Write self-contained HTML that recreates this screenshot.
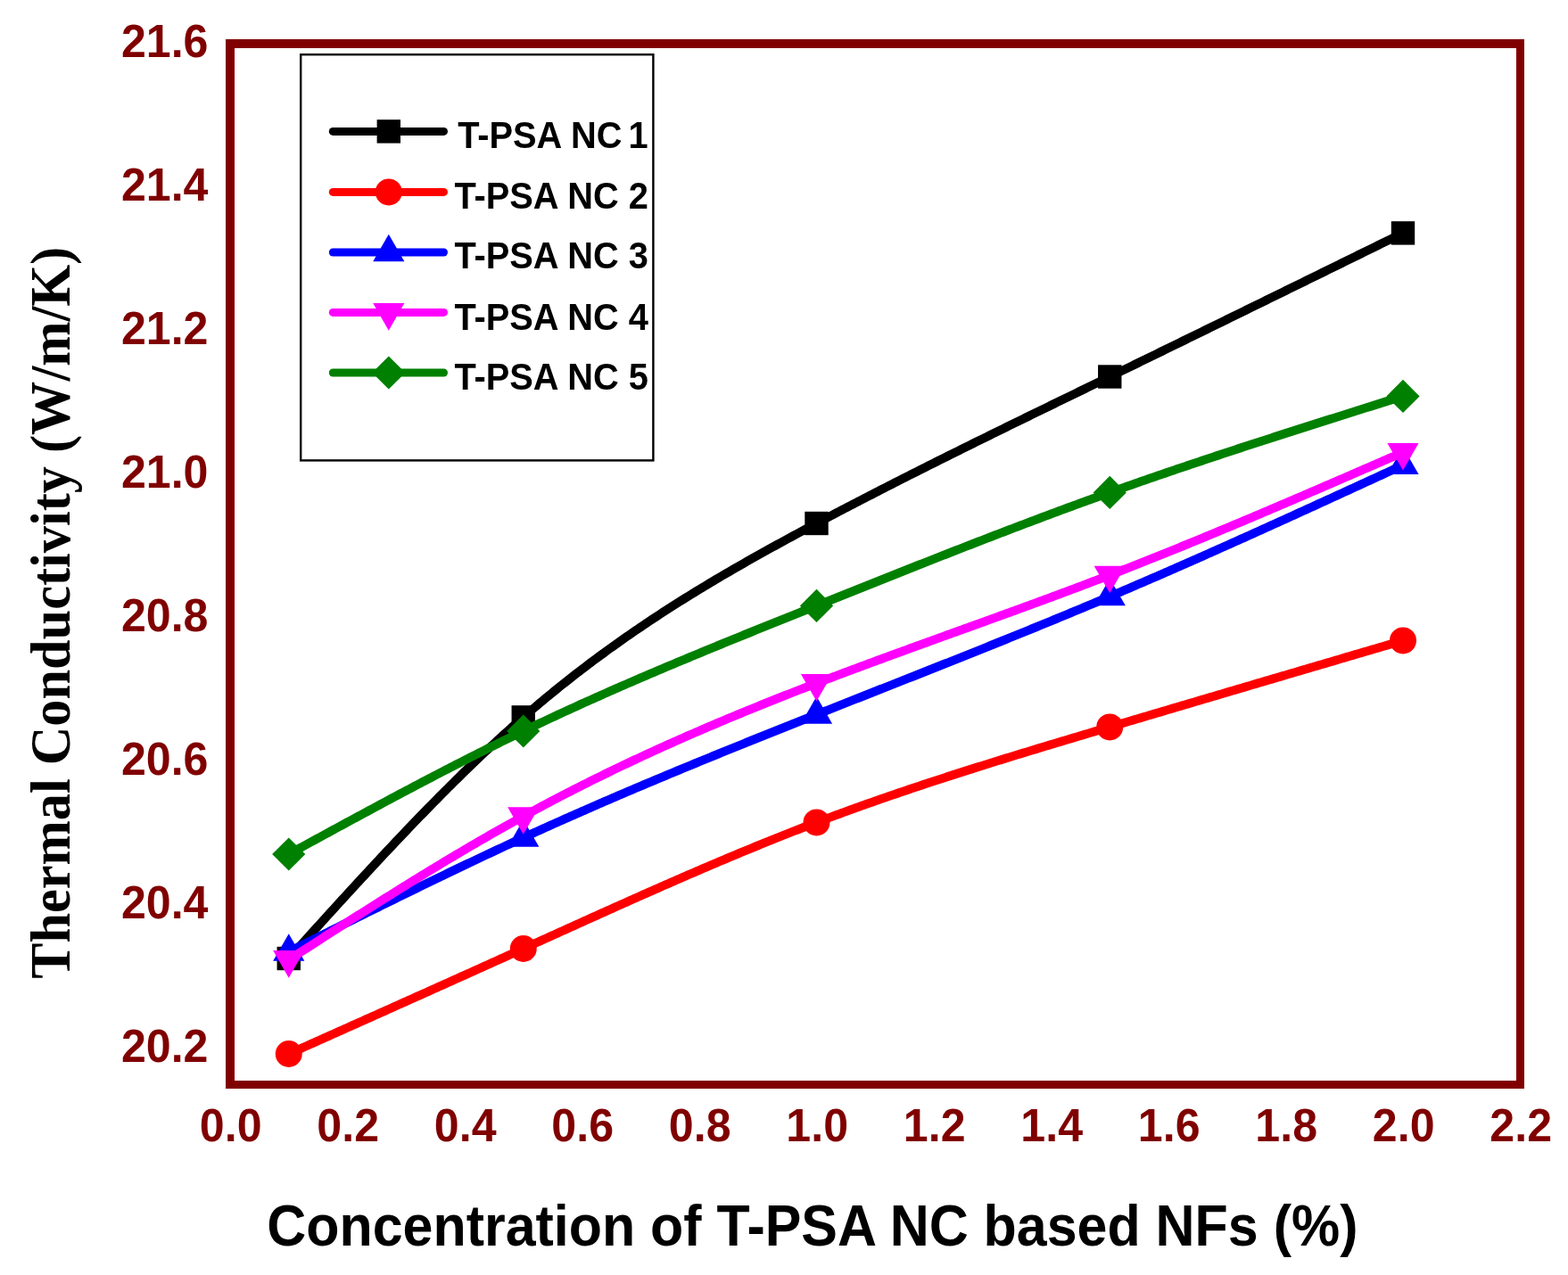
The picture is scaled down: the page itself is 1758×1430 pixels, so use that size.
<!DOCTYPE html>
<html><head><meta charset="utf-8"><title>Thermal Conductivity chart</title>
<style>
html,body{margin:0;padding:0;background:#fff;width:1758px;height:1430px;overflow:hidden}
svg{display:block}
.tick{font-family:"Liberation Sans",Arial,sans-serif;font-weight:bold;font-size:51.6px;fill:#800000}
.leg{font-family:"Liberation Sans",Arial,sans-serif;font-weight:bold;font-size:42.2px;fill:#000}
.xt{font-family:"Liberation Sans",Arial,sans-serif;font-weight:bold;font-size:63.95px;fill:#000}
.yt{font-family:"Liberation Serif","Times New Roman",serif;font-weight:bold;font-size:63.05px;fill:#000}
</style></head>
<body>
<svg width="1758" height="1430" viewBox="0 0 1758 1430">
<rect x="0" y="0" width="1758" height="1430" fill="#ffffff"/>
<rect x="337.2" y="61.2" width="395.2" height="455.2" fill="none" stroke="#000" stroke-width="2.4"/>
<polyline points="323.75,1075.00 326.88,1071.53 330.01,1068.07 333.14,1064.60 336.27,1061.14 339.40,1057.67 342.54,1054.21 345.67,1050.75 348.80,1047.29 351.93,1043.83 355.06,1040.38 358.19,1036.92 361.32,1033.47 364.45,1030.02 367.58,1026.57 370.71,1023.13 373.85,1019.69 376.98,1016.25 380.11,1012.82 383.24,1009.38 386.37,1005.96 389.50,1002.54 392.63,999.12 395.76,995.71 398.89,992.30 402.02,988.89 405.15,985.49 408.29,982.10 411.42,978.71 414.55,975.33 417.68,971.96 420.81,968.59 423.94,965.23 427.07,961.87 430.20,958.52 433.33,955.18 436.46,951.84 439.60,948.52 442.73,945.20 445.86,941.88 448.99,938.58 452.12,935.29 455.25,932.00 458.38,928.72 461.51,925.45 464.64,922.19 467.77,918.94 470.90,915.70 474.04,912.47 477.17,909.25 480.30,906.03 483.43,902.83 486.56,899.64 489.69,896.46 492.82,893.30 495.95,890.14 499.08,886.99 502.21,883.86 505.35,880.74 508.48,877.63 511.61,874.53 514.74,871.44 517.87,868.37 521.00,865.31 524.13,862.26 527.26,859.23 530.39,856.21 533.52,853.20 536.65,850.21 539.79,847.23 542.92,844.27 546.05,841.32 549.18,838.39 552.31,835.47 555.44,832.56 558.57,829.67 561.70,826.80 564.83,823.94 567.96,821.10 571.10,818.28 574.23,815.47 577.36,812.67 580.49,809.90 583.62,807.14 586.75,804.40 589.88,801.68 593.01,798.97 596.14,796.28 599.27,793.61 602.40,790.95 605.54,788.31 608.67,785.69 611.80,783.09 614.93,780.50 618.06,777.93 621.19,775.37 624.32,772.83 627.45,770.30 630.58,767.79 633.71,765.30 636.85,762.82 639.98,760.36 643.11,757.91 646.24,755.48 649.37,753.06 652.50,750.66 655.63,748.27 658.76,745.89 661.89,743.53 665.02,741.19 668.15,738.85 671.29,736.54 674.42,734.23 677.55,731.94 680.68,729.66 683.81,727.40 686.94,725.15 690.07,722.91 693.20,720.68 696.33,718.47 699.46,716.27 702.60,714.08 705.73,711.91 708.86,709.75 711.99,707.59 715.12,705.46 718.25,703.33 721.38,701.21 724.51,699.11 727.64,697.02 730.77,694.94 733.90,692.86 737.04,690.81 740.17,688.76 743.30,686.72 746.43,684.69 749.56,682.67 752.69,680.67 755.82,678.67 758.95,676.68 762.08,674.71 765.21,672.74 768.35,670.78 771.48,668.83 774.61,666.90 777.74,664.97 780.87,663.05 784.00,661.13 787.13,659.23 790.26,657.34 793.39,655.45 796.52,653.57 799.65,651.70 802.79,649.84 805.92,647.99 809.05,646.14 812.18,644.30 815.31,642.47 818.44,640.65 821.57,638.83 824.70,637.02 827.83,635.22 830.96,633.42 834.10,631.64 837.23,629.85 840.36,628.08 843.49,626.31 846.62,624.54 849.75,622.79 852.88,621.03 856.01,619.29 859.14,617.55 862.27,615.81 865.40,614.08 868.54,612.36 871.67,610.64 874.80,608.92 877.93,607.21 881.06,605.50 884.19,603.80 887.32,602.11 890.45,600.41 893.58,598.72 896.71,597.04 899.85,595.36 902.98,593.68 906.11,592.00 909.24,590.33 912.37,588.66 915.50,587.00 918.63,585.34 921.76,583.68 924.89,582.02 928.02,580.37 931.15,578.72 934.29,577.07 937.42,575.42 940.55,573.78 943.68,572.14 946.81,570.51 949.94,568.87 953.07,567.24 956.20,565.61 959.33,563.98 962.46,562.36 965.60,560.73 968.73,559.11 971.86,557.50 974.99,555.88 978.12,554.27 981.25,552.66 984.38,551.05 987.51,549.45 990.64,547.84 993.77,546.24 996.90,544.64 1000.04,543.04 1003.17,541.45 1006.30,539.86 1009.43,538.26 1012.56,536.67 1015.69,535.09 1018.82,533.50 1021.95,531.92 1025.08,530.34 1028.21,528.76 1031.35,527.18 1034.48,525.60 1037.61,524.03 1040.74,522.46 1043.87,520.89 1047.00,519.32 1050.13,517.75 1053.26,516.18 1056.39,514.62 1059.52,513.06 1062.65,511.50 1065.79,509.94 1068.92,508.38 1072.05,506.82 1075.18,505.27 1078.31,503.71 1081.44,502.16 1084.57,500.61 1087.70,499.06 1090.83,497.51 1093.96,495.96 1097.10,494.41 1100.23,492.87 1103.36,491.32 1106.49,489.78 1109.62,488.24 1112.75,486.70 1115.88,485.16 1119.01,483.62 1122.14,482.08 1125.27,480.54 1128.40,479.00 1131.54,477.47 1134.67,475.93 1137.80,474.40 1140.93,472.87 1144.06,471.33 1147.19,469.80 1150.32,468.27 1153.45,466.74 1156.58,465.21 1159.71,463.68 1162.85,462.15 1165.98,460.62 1169.11,459.10 1172.24,457.57 1175.37,456.04 1178.50,454.52 1181.63,452.99 1184.76,451.46 1187.89,449.94 1191.02,448.41 1194.15,446.89 1197.29,445.36 1200.42,443.84 1203.55,442.32 1206.68,440.79 1209.81,439.27 1212.94,437.74 1216.07,436.22 1219.20,434.70 1222.33,433.17 1225.46,431.65 1228.60,430.12 1231.73,428.60 1234.86,427.07 1237.99,425.55 1241.12,424.03 1244.25,422.50 1247.38,420.97 1250.51,419.45 1253.64,417.92 1256.77,416.40 1259.90,414.87 1263.04,413.34 1266.17,411.82 1269.30,410.29 1272.43,408.76 1275.56,407.24 1278.69,405.71 1281.82,404.18 1284.95,402.65 1288.08,401.12 1291.21,399.60 1294.35,398.07 1297.48,396.54 1300.61,395.01 1303.74,393.48 1306.87,391.95 1310.00,390.42 1313.13,388.89 1316.26,387.36 1319.39,385.83 1322.52,384.30 1325.65,382.77 1328.79,381.23 1331.92,379.70 1335.05,378.17 1338.18,376.64 1341.31,375.11 1344.44,373.58 1347.57,372.04 1350.70,370.51 1353.83,368.98 1356.96,367.45 1360.10,365.91 1363.23,364.38 1366.36,362.85 1369.49,361.31 1372.62,359.78 1375.75,358.24 1378.88,356.71 1382.01,355.18 1385.14,353.64 1388.27,352.11 1391.40,350.57 1394.54,349.04 1397.67,347.50 1400.80,345.97 1403.93,344.43 1407.06,342.90 1410.19,341.36 1413.32,339.83 1416.45,338.29 1419.58,336.76 1422.71,335.22 1425.85,333.68 1428.98,332.15 1432.11,330.61 1435.24,329.07 1438.37,327.54 1441.50,326.00 1444.63,324.46 1447.76,322.93 1450.89,321.39 1454.02,319.85 1457.15,318.32 1460.29,316.78 1463.42,315.24 1466.55,313.71 1469.68,312.17 1472.81,310.63 1475.94,309.09 1479.07,307.55 1482.20,306.02 1485.33,304.48 1488.46,302.94 1491.60,301.40 1494.73,299.87 1497.86,298.33 1500.99,296.79 1504.12,295.25 1507.25,293.71 1510.38,292.17 1513.51,290.64 1516.64,289.10 1519.77,287.56 1522.90,286.02 1526.04,284.48 1529.17,282.94 1532.30,281.40 1535.43,279.87 1538.56,278.33 1541.69,276.79 1544.82,275.25 1547.95,273.71 1551.08,272.17 1554.21,270.63 1557.35,269.09 1560.48,267.56 1563.61,266.02 1566.74,264.48 1569.87,262.94 1573.00,261.40" fill="none" stroke="#000000" stroke-width="9.8" stroke-linejoin="round" stroke-linecap="round"/>
<rect x="310.55" y="1061.80" width="26.40" height="26.40" fill="#000000"/>
<rect x="573.55" y="791.20" width="26.40" height="26.40" fill="#000000"/>
<rect x="902.30" y="573.80" width="26.40" height="26.40" fill="#000000"/>
<rect x="1231.05" y="409.30" width="26.40" height="26.40" fill="#000000"/>
<rect x="1559.80" y="248.20" width="26.40" height="26.40" fill="#000000"/>
<polyline points="323.75,1182.00 326.88,1180.60 330.01,1179.20 333.14,1177.80 336.27,1176.41 339.40,1175.01 342.54,1173.61 345.67,1172.21 348.80,1170.81 351.93,1169.41 355.06,1168.01 358.19,1166.61 361.32,1165.21 364.45,1163.82 367.58,1162.42 370.71,1161.02 373.85,1159.62 376.98,1158.22 380.11,1156.82 383.24,1155.42 386.37,1154.02 389.50,1152.62 392.63,1151.22 395.76,1149.82 398.89,1148.42 402.02,1147.02 405.15,1145.62 408.29,1144.22 411.42,1142.82 414.55,1141.42 417.68,1140.02 420.81,1138.62 423.94,1137.21 427.07,1135.81 430.20,1134.41 433.33,1133.01 436.46,1131.61 439.60,1130.21 442.73,1128.80 445.86,1127.40 448.99,1126.00 452.12,1124.59 455.25,1123.19 458.38,1121.79 461.51,1120.38 464.64,1118.98 467.77,1117.58 470.90,1116.17 474.04,1114.77 477.17,1113.36 480.30,1111.96 483.43,1110.55 486.56,1109.15 489.69,1107.74 492.82,1106.34 495.95,1104.93 499.08,1103.52 502.21,1102.12 505.35,1100.71 508.48,1099.30 511.61,1097.89 514.74,1096.48 517.87,1095.08 521.00,1093.67 524.13,1092.26 527.26,1090.85 530.39,1089.44 533.52,1088.03 536.65,1086.62 539.79,1085.21 542.92,1083.80 546.05,1082.39 549.18,1080.97 552.31,1079.56 555.44,1078.15 558.57,1076.74 561.70,1075.32 564.83,1073.91 567.96,1072.49 571.10,1071.08 574.23,1069.66 577.36,1068.25 580.49,1066.83 583.62,1065.42 586.75,1064.00 589.88,1062.58 593.01,1061.17 596.14,1059.75 599.27,1058.33 602.40,1056.91 605.54,1055.49 608.67,1054.07 611.80,1052.65 614.93,1051.24 618.06,1049.82 621.19,1048.40 624.32,1046.98 627.45,1045.56 630.58,1044.14 633.71,1042.73 636.85,1041.31 639.98,1039.89 643.11,1038.47 646.24,1037.06 649.37,1035.64 652.50,1034.23 655.63,1032.81 658.76,1031.40 661.89,1029.98 665.02,1028.57 668.15,1027.16 671.29,1025.75 674.42,1024.34 677.55,1022.93 680.68,1021.52 683.81,1020.11 686.94,1018.71 690.07,1017.30 693.20,1015.90 696.33,1014.50 699.46,1013.10 702.60,1011.70 705.73,1010.30 708.86,1008.90 711.99,1007.50 715.12,1006.11 718.25,1004.72 721.38,1003.33 724.51,1001.94 727.64,1000.55 730.77,999.17 733.90,997.78 737.04,996.40 740.17,995.02 743.30,993.64 746.43,992.27 749.56,990.90 752.69,989.52 755.82,988.15 758.95,986.79 762.08,985.42 765.21,984.06 768.35,982.70 771.48,981.34 774.61,979.99 777.74,978.64 780.87,977.29 784.00,975.94 787.13,974.59 790.26,973.25 793.39,971.91 796.52,970.58 799.65,969.24 802.79,967.91 805.92,966.59 809.05,965.26 812.18,963.94 815.31,962.62 818.44,961.31 821.57,960.00 824.70,958.69 827.83,957.38 830.96,956.08 834.10,954.78 837.23,953.49 840.36,952.20 843.49,950.91 846.62,949.63 849.75,948.35 852.88,947.07 856.01,945.80 859.14,944.53 862.27,943.26 865.40,942.00 868.54,940.75 871.67,939.49 874.80,938.24 877.93,937.00 881.06,935.76 884.19,934.52 887.32,933.29 890.45,932.06 893.58,930.84 896.71,929.62 899.85,928.40 902.98,927.19 906.11,925.99 909.24,924.79 912.37,923.59 915.50,922.40 918.63,921.21 921.76,920.03 924.89,918.85 928.02,917.68 931.15,916.51 934.29,915.35 937.42,914.19 940.55,913.04 943.68,911.89 946.81,910.74 949.94,909.60 953.07,908.46 956.20,907.33 959.33,906.20 962.46,905.08 965.60,903.96 968.73,902.84 971.86,901.73 974.99,900.62 978.12,899.51 981.25,898.41 984.38,897.32 987.51,896.23 990.64,895.14 993.77,894.05 996.90,892.97 1000.04,891.89 1003.17,890.82 1006.30,889.75 1009.43,888.68 1012.56,887.62 1015.69,886.55 1018.82,885.50 1021.95,884.44 1025.08,883.39 1028.21,882.35 1031.35,881.30 1034.48,880.26 1037.61,879.22 1040.74,878.19 1043.87,877.16 1047.00,876.13 1050.13,875.10 1053.26,874.08 1056.39,873.06 1059.52,872.04 1062.65,871.03 1065.79,870.02 1068.92,869.01 1072.05,868.00 1075.18,867.00 1078.31,865.99 1081.44,865.00 1084.57,864.00 1087.70,863.01 1090.83,862.01 1093.96,861.02 1097.10,860.04 1100.23,859.05 1103.36,858.07 1106.49,857.09 1109.62,856.11 1112.75,855.13 1115.88,854.16 1119.01,853.19 1122.14,852.22 1125.27,851.25 1128.40,850.28 1131.54,849.32 1134.67,848.35 1137.80,847.39 1140.93,846.43 1144.06,845.47 1147.19,844.52 1150.32,843.56 1153.45,842.61 1156.58,841.66 1159.71,840.71 1162.85,839.76 1165.98,838.81 1169.11,837.86 1172.24,836.92 1175.37,835.97 1178.50,835.03 1181.63,834.08 1184.76,833.14 1187.89,832.20 1191.02,831.26 1194.15,830.33 1197.29,829.39 1200.42,828.45 1203.55,827.52 1206.68,826.58 1209.81,825.65 1212.94,824.71 1216.07,823.78 1219.20,822.85 1222.33,821.91 1225.46,820.98 1228.60,820.05 1231.73,819.12 1234.86,818.19 1237.99,817.26 1241.12,816.33 1244.25,815.40 1247.38,814.47 1250.51,813.54 1253.64,812.61 1256.77,811.68 1259.90,810.75 1263.04,809.83 1266.17,808.90 1269.30,807.97 1272.43,807.04 1275.56,806.11 1278.69,805.18 1281.82,804.26 1284.95,803.33 1288.08,802.40 1291.21,801.47 1294.35,800.55 1297.48,799.62 1300.61,798.69 1303.74,797.76 1306.87,796.84 1310.00,795.91 1313.13,794.99 1316.26,794.06 1319.39,793.13 1322.52,792.21 1325.65,791.28 1328.79,790.36 1331.92,789.43 1335.05,788.50 1338.18,787.58 1341.31,786.65 1344.44,785.73 1347.57,784.80 1350.70,783.88 1353.83,782.95 1356.96,782.03 1360.10,781.10 1363.23,780.18 1366.36,779.25 1369.49,778.33 1372.62,777.41 1375.75,776.48 1378.88,775.56 1382.01,774.63 1385.14,773.71 1388.27,772.79 1391.40,771.86 1394.54,770.94 1397.67,770.02 1400.80,769.09 1403.93,768.17 1407.06,767.25 1410.19,766.32 1413.32,765.40 1416.45,764.48 1419.58,763.55 1422.71,762.63 1425.85,761.71 1428.98,760.79 1432.11,759.86 1435.24,758.94 1438.37,758.02 1441.50,757.10 1444.63,756.17 1447.76,755.25 1450.89,754.33 1454.02,753.41 1457.15,752.49 1460.29,751.56 1463.42,750.64 1466.55,749.72 1469.68,748.80 1472.81,747.88 1475.94,746.96 1479.07,746.03 1482.20,745.11 1485.33,744.19 1488.46,743.27 1491.60,742.35 1494.73,741.43 1497.86,740.50 1500.99,739.58 1504.12,738.66 1507.25,737.74 1510.38,736.82 1513.51,735.90 1516.64,734.98 1519.77,734.06 1522.90,733.14 1526.04,732.21 1529.17,731.29 1532.30,730.37 1535.43,729.45 1538.56,728.53 1541.69,727.61 1544.82,726.69 1547.95,725.77 1551.08,724.85 1554.21,723.93 1557.35,723.00 1560.48,722.08 1563.61,721.16 1566.74,720.24 1569.87,719.32 1573.00,718.40" fill="none" stroke="#ff0000" stroke-width="9.8" stroke-linejoin="round" stroke-linecap="round"/>
<circle cx="323.75" cy="1182.00" r="15.0" fill="#ff0000"/>
<circle cx="586.75" cy="1064.00" r="15.0" fill="#ff0000"/>
<circle cx="915.50" cy="922.40" r="15.0" fill="#ff0000"/>
<circle cx="1244.25" cy="815.40" r="15.0" fill="#ff0000"/>
<circle cx="1573.00" cy="718.40" r="15.0" fill="#ff0000"/>
<polyline points="323.75,1067.50 326.88,1065.93 330.01,1064.36 333.14,1062.80 336.27,1061.23 339.40,1059.66 342.54,1058.09 345.67,1056.53 348.80,1054.96 351.93,1053.39 355.06,1051.83 358.19,1050.26 361.32,1048.69 364.45,1047.13 367.58,1045.56 370.71,1044.00 373.85,1042.44 376.98,1040.87 380.11,1039.31 383.24,1037.75 386.37,1036.19 389.50,1034.63 392.63,1033.07 395.76,1031.51 398.89,1029.95 402.02,1028.40 405.15,1026.84 408.29,1025.28 411.42,1023.73 414.55,1022.18 417.68,1020.63 420.81,1019.08 423.94,1017.53 427.07,1015.98 430.20,1014.43 433.33,1012.88 436.46,1011.34 439.60,1009.80 442.73,1008.26 445.86,1006.72 448.99,1005.18 452.12,1003.64 455.25,1002.10 458.38,1000.57 461.51,999.04 464.64,997.51 467.77,995.98 470.90,994.45 474.04,992.92 477.17,991.40 480.30,989.88 483.43,988.36 486.56,986.84 489.69,985.32 492.82,983.81 495.95,982.30 499.08,980.79 502.21,979.28 505.35,977.77 508.48,976.27 511.61,974.77 514.74,973.27 517.87,971.77 521.00,970.28 524.13,968.79 527.26,967.30 530.39,965.81 533.52,964.32 536.65,962.84 539.79,961.36 542.92,959.89 546.05,958.41 549.18,956.94 552.31,955.47 555.44,954.00 558.57,952.54 561.70,951.08 564.83,949.62 567.96,948.17 571.10,946.71 574.23,945.27 577.36,943.82 580.49,942.38 583.62,940.94 586.75,939.50 589.88,938.07 593.01,936.64 596.14,935.21 599.27,933.78 602.40,932.36 605.54,930.94 608.67,929.53 611.80,928.12 614.93,926.71 618.06,925.30 621.19,923.90 624.32,922.50 627.45,921.10 630.58,919.71 633.71,918.31 636.85,916.93 639.98,915.54 643.11,914.15 646.24,912.77 649.37,911.40 652.50,910.02 655.63,908.65 658.76,907.28 661.89,905.91 665.02,904.54 668.15,903.18 671.29,901.82 674.42,900.46 677.55,899.11 680.68,897.76 683.81,896.41 686.94,895.06 690.07,893.71 693.20,892.37 696.33,891.03 699.46,889.69 702.60,888.35 705.73,887.02 708.86,885.69 711.99,884.36 715.12,883.03 718.25,881.70 721.38,880.38 724.51,879.06 727.64,877.74 730.77,876.42 733.90,875.11 737.04,873.79 740.17,872.48 743.30,871.17 746.43,869.87 749.56,868.56 752.69,867.26 755.82,865.95 758.95,864.65 762.08,863.36 765.21,862.06 768.35,860.77 771.48,859.47 774.61,858.18 777.74,856.89 780.87,855.60 784.00,854.32 787.13,853.03 790.26,851.75 793.39,850.47 796.52,849.19 799.65,847.91 802.79,846.63 805.92,845.35 809.05,844.08 812.18,842.81 815.31,841.53 818.44,840.26 821.57,838.99 824.70,837.73 827.83,836.46 830.96,835.19 834.10,833.93 837.23,832.67 840.36,831.41 843.49,830.14 846.62,828.88 849.75,827.63 852.88,826.37 856.01,825.11 859.14,823.86 862.27,822.60 865.40,821.35 868.54,820.10 871.67,818.84 874.80,817.59 877.93,816.34 881.06,815.09 884.19,813.85 887.32,812.60 890.45,811.35 893.58,810.10 896.71,808.86 899.85,807.61 902.98,806.37 906.11,805.13 909.24,803.88 912.37,802.64 915.50,801.40 918.63,800.16 921.76,798.92 924.89,797.68 928.02,796.44 931.15,795.20 934.29,793.96 937.42,792.72 940.55,791.48 943.68,790.24 946.81,789.01 949.94,787.77 953.07,786.53 956.20,785.30 959.33,784.06 962.46,782.82 965.60,781.59 968.73,780.35 971.86,779.11 974.99,777.88 978.12,776.64 981.25,775.40 984.38,774.17 987.51,772.93 990.64,771.70 993.77,770.46 996.90,769.22 1000.04,767.99 1003.17,766.75 1006.30,765.51 1009.43,764.28 1012.56,763.04 1015.69,761.80 1018.82,760.56 1021.95,759.32 1025.08,758.09 1028.21,756.85 1031.35,755.61 1034.48,754.37 1037.61,753.13 1040.74,751.89 1043.87,750.64 1047.00,749.40 1050.13,748.16 1053.26,746.92 1056.39,745.67 1059.52,744.43 1062.65,743.19 1065.79,741.94 1068.92,740.69 1072.05,739.45 1075.18,738.20 1078.31,736.95 1081.44,735.70 1084.57,734.45 1087.70,733.20 1090.83,731.95 1093.96,730.70 1097.10,729.44 1100.23,728.19 1103.36,726.93 1106.49,725.68 1109.62,724.42 1112.75,723.16 1115.88,721.90 1119.01,720.64 1122.14,719.38 1125.27,718.11 1128.40,716.85 1131.54,715.58 1134.67,714.32 1137.80,713.05 1140.93,711.78 1144.06,710.51 1147.19,709.24 1150.32,707.96 1153.45,706.69 1156.58,705.41 1159.71,704.13 1162.85,702.86 1165.98,701.58 1169.11,700.29 1172.24,699.01 1175.37,697.72 1178.50,696.44 1181.63,695.15 1184.76,693.86 1187.89,692.57 1191.02,691.27 1194.15,689.98 1197.29,688.68 1200.42,687.38 1203.55,686.08 1206.68,684.78 1209.81,683.48 1212.94,682.17 1216.07,680.86 1219.20,679.55 1222.33,678.24 1225.46,676.93 1228.60,675.61 1231.73,674.29 1234.86,672.97 1237.99,671.65 1241.12,670.33 1244.25,669.00 1247.38,667.67 1250.51,666.34 1253.64,665.01 1256.77,663.67 1259.90,662.34 1263.04,661.00 1266.17,659.66 1269.30,658.31 1272.43,656.97 1275.56,655.62 1278.69,654.27 1281.82,652.92 1284.95,651.57 1288.08,650.22 1291.21,648.86 1294.35,647.50 1297.48,646.14 1300.61,644.78 1303.74,643.41 1306.87,642.05 1310.00,640.68 1313.13,639.31 1316.26,637.94 1319.39,636.57 1322.52,635.20 1325.65,633.82 1328.79,632.44 1331.92,631.06 1335.05,629.68 1338.18,628.30 1341.31,626.92 1344.44,625.53 1347.57,624.15 1350.70,622.76 1353.83,621.37 1356.96,619.98 1360.10,618.59 1363.23,617.19 1366.36,615.80 1369.49,614.40 1372.62,613.00 1375.75,611.60 1378.88,610.20 1382.01,608.80 1385.14,607.40 1388.27,605.99 1391.40,604.59 1394.54,603.18 1397.67,601.77 1400.80,600.36 1403.93,598.95 1407.06,597.54 1410.19,596.13 1413.32,594.72 1416.45,593.30 1419.58,591.89 1422.71,590.47 1425.85,589.05 1428.98,587.64 1432.11,586.22 1435.24,584.80 1438.37,583.37 1441.50,581.95 1444.63,580.53 1447.76,579.11 1450.89,577.68 1454.02,576.26 1457.15,574.83 1460.29,573.40 1463.42,571.97 1466.55,570.55 1469.68,569.12 1472.81,567.69 1475.94,566.26 1479.07,564.83 1482.20,563.39 1485.33,561.96 1488.46,560.53 1491.60,559.10 1494.73,557.66 1497.86,556.23 1500.99,554.79 1504.12,553.36 1507.25,551.92 1510.38,550.49 1513.51,549.05 1516.64,547.61 1519.77,546.17 1522.90,544.74 1526.04,543.30 1529.17,541.86 1532.30,540.42 1535.43,538.98 1538.56,537.54 1541.69,536.10 1544.82,534.66 1547.95,533.22 1551.08,531.78 1554.21,530.34 1557.35,528.90 1560.48,527.46 1563.61,526.02 1566.74,524.58 1569.87,523.14 1573.00,521.70" fill="none" stroke="#0000ff" stroke-width="9.8" stroke-linejoin="round" stroke-linecap="round"/>
<polygon points="323.75,1047.20 341.35,1077.80 306.15,1077.80" fill="#0000ff"/>
<polygon points="586.75,919.20 604.35,949.80 569.15,949.80" fill="#0000ff"/>
<polygon points="915.50,781.10 933.10,811.70 897.90,811.70" fill="#0000ff"/>
<polygon points="1244.25,648.70 1261.85,679.30 1226.65,679.30" fill="#0000ff"/>
<polygon points="1573.00,501.40 1590.60,532.00 1555.40,532.00" fill="#0000ff"/>
<polyline points="323.75,1076.40 326.88,1074.39 330.01,1072.37 333.14,1070.36 336.27,1068.34 339.40,1066.33 342.54,1064.32 345.67,1062.30 348.80,1060.29 351.93,1058.28 355.06,1056.27 358.19,1054.26 361.32,1052.25 364.45,1050.24 367.58,1048.23 370.71,1046.23 373.85,1044.22 376.98,1042.22 380.11,1040.22 383.24,1038.22 386.37,1036.22 389.50,1034.22 392.63,1032.23 395.76,1030.23 398.89,1028.24 402.02,1026.25 405.15,1024.27 408.29,1022.28 411.42,1020.30 414.55,1018.32 417.68,1016.34 420.81,1014.36 423.94,1012.39 427.07,1010.42 430.20,1008.45 433.33,1006.49 436.46,1004.53 439.60,1002.57 442.73,1000.61 445.86,998.66 448.99,996.71 452.12,994.77 455.25,992.83 458.38,990.89 461.51,988.95 464.64,987.02 467.77,985.09 470.90,983.17 474.04,981.25 477.17,979.34 480.30,977.42 483.43,975.52 486.56,973.61 489.69,971.72 492.82,969.82 495.95,967.93 499.08,966.05 502.21,964.17 505.35,962.29 508.48,960.42 511.61,958.56 514.74,956.70 517.87,954.84 521.00,952.99 524.13,951.15 527.26,949.31 530.39,947.47 533.52,945.65 536.65,943.82 539.79,942.01 542.92,940.20 546.05,938.39 549.18,936.59 552.31,934.80 555.44,933.01 558.57,931.23 561.70,929.46 564.83,927.69 567.96,925.93 571.10,924.17 574.23,922.42 577.36,920.68 580.49,918.95 583.62,917.22 586.75,915.50 589.88,913.79 593.01,912.08 596.14,910.38 599.27,908.69 602.40,907.00 605.54,905.32 608.67,903.65 611.80,901.99 614.93,900.33 618.06,898.68 621.19,897.03 624.32,895.39 627.45,893.76 630.58,892.14 633.71,890.52 636.85,888.90 639.98,887.30 643.11,885.70 646.24,884.11 649.37,882.52 652.50,880.94 655.63,879.36 658.76,877.80 661.89,876.23 665.02,874.68 668.15,873.13 671.29,871.58 674.42,870.05 677.55,868.52 680.68,866.99 683.81,865.47 686.94,863.95 690.07,862.45 693.20,860.94 696.33,859.45 699.46,857.95 702.60,856.47 705.73,854.99 708.86,853.51 711.99,852.04 715.12,850.58 718.25,849.12 721.38,847.67 724.51,846.22 727.64,844.78 730.77,843.34 733.90,841.91 737.04,840.48 740.17,839.06 743.30,837.64 746.43,836.23 749.56,834.82 752.69,833.42 755.82,832.02 758.95,830.63 762.08,829.24 765.21,827.86 768.35,826.48 771.48,825.11 774.61,823.74 777.74,822.38 780.87,821.02 784.00,819.66 787.13,818.31 790.26,816.97 793.39,815.62 796.52,814.29 799.65,812.95 802.79,811.63 805.92,810.30 809.05,808.98 812.18,807.67 815.31,806.35 818.44,805.05 821.57,803.74 824.70,802.44 827.83,801.15 830.96,799.85 834.10,798.57 837.23,797.28 840.36,796.00 843.49,794.73 846.62,793.45 849.75,792.18 852.88,790.92 856.01,789.65 859.14,788.40 862.27,787.14 865.40,785.89 868.54,784.64 871.67,783.40 874.80,782.16 877.93,780.92 881.06,779.68 884.19,778.45 887.32,777.22 890.45,776.00 893.58,774.77 896.71,773.55 899.85,772.34 902.98,771.12 906.11,769.91 909.24,768.71 912.37,767.50 915.50,766.30 918.63,765.10 921.76,763.90 924.89,762.71 928.02,761.52 931.15,760.33 934.29,759.14 937.42,757.96 940.55,756.78 943.68,755.60 946.81,754.42 949.94,753.25 953.07,752.08 956.20,750.91 959.33,749.74 962.46,748.57 965.60,747.41 968.73,746.24 971.86,745.08 974.99,743.92 978.12,742.77 981.25,741.61 984.38,740.46 987.51,739.31 990.64,738.16 993.77,737.01 996.90,735.86 1000.04,734.71 1003.17,733.57 1006.30,732.42 1009.43,731.28 1012.56,730.14 1015.69,729.00 1018.82,727.86 1021.95,726.72 1025.08,725.58 1028.21,724.44 1031.35,723.31 1034.48,722.17 1037.61,721.04 1040.74,719.91 1043.87,718.77 1047.00,717.64 1050.13,716.51 1053.26,715.37 1056.39,714.24 1059.52,713.11 1062.65,711.98 1065.79,710.85 1068.92,709.72 1072.05,708.59 1075.18,707.46 1078.31,706.33 1081.44,705.20 1084.57,704.07 1087.70,702.94 1090.83,701.81 1093.96,700.68 1097.10,699.54 1100.23,698.41 1103.36,697.28 1106.49,696.15 1109.62,695.01 1112.75,693.88 1115.88,692.74 1119.01,691.61 1122.14,690.47 1125.27,689.34 1128.40,688.20 1131.54,687.06 1134.67,685.92 1137.80,684.78 1140.93,683.64 1144.06,682.50 1147.19,681.35 1150.32,680.21 1153.45,679.06 1156.58,677.91 1159.71,676.76 1162.85,675.61 1165.98,674.46 1169.11,673.31 1172.24,672.15 1175.37,670.99 1178.50,669.83 1181.63,668.67 1184.76,667.51 1187.89,666.35 1191.02,665.18 1194.15,664.01 1197.29,662.84 1200.42,661.67 1203.55,660.49 1206.68,659.32 1209.81,658.14 1212.94,656.96 1216.07,655.77 1219.20,654.59 1222.33,653.40 1225.46,652.20 1228.60,651.01 1231.73,649.81 1234.86,648.61 1237.99,647.41 1241.12,646.21 1244.25,645.00 1247.38,643.79 1250.51,642.58 1253.64,641.36 1256.77,640.14 1259.90,638.92 1263.04,637.69 1266.17,636.47 1269.30,635.24 1272.43,634.00 1275.56,632.77 1278.69,631.53 1281.82,630.29 1284.95,629.04 1288.08,627.80 1291.21,626.55 1294.35,625.30 1297.48,624.04 1300.61,622.79 1303.74,621.53 1306.87,620.27 1310.00,619.01 1313.13,617.74 1316.26,616.47 1319.39,615.20 1322.52,613.93 1325.65,612.65 1328.79,611.38 1331.92,610.10 1335.05,608.82 1338.18,607.53 1341.31,606.25 1344.44,604.96 1347.57,603.67 1350.70,602.38 1353.83,601.09 1356.96,599.79 1360.10,598.49 1363.23,597.20 1366.36,595.89 1369.49,594.59 1372.62,593.29 1375.75,591.98 1378.88,590.67 1382.01,589.36 1385.14,588.05 1388.27,586.74 1391.40,585.42 1394.54,584.11 1397.67,582.79 1400.80,581.47 1403.93,580.15 1407.06,578.82 1410.19,577.50 1413.32,576.17 1416.45,574.85 1419.58,573.52 1422.71,572.19 1425.85,570.86 1428.98,569.53 1432.11,568.19 1435.24,566.86 1438.37,565.52 1441.50,564.18 1444.63,562.84 1447.76,561.50 1450.89,560.16 1454.02,558.82 1457.15,557.48 1460.29,556.13 1463.42,554.79 1466.55,553.44 1469.68,552.10 1472.81,550.75 1475.94,549.40 1479.07,548.05 1482.20,546.70 1485.33,545.35 1488.46,544.00 1491.60,542.64 1494.73,541.29 1497.86,539.94 1500.99,538.58 1504.12,537.23 1507.25,535.87 1510.38,534.51 1513.51,533.16 1516.64,531.80 1519.77,530.44 1522.90,529.08 1526.04,527.72 1529.17,526.36 1532.30,525.00 1535.43,523.64 1538.56,522.28 1541.69,520.92 1544.82,519.56 1547.95,518.20 1551.08,516.84 1554.21,515.47 1557.35,514.11 1560.48,512.75 1563.61,511.39 1566.74,510.03 1569.87,508.66 1573.00,507.30" fill="none" stroke="#ff00ff" stroke-width="9.8" stroke-linejoin="round" stroke-linecap="round"/>
<polygon points="323.75,1096.70 341.35,1066.10 306.15,1066.10" fill="#ff00ff"/>
<polygon points="586.75,935.80 604.35,905.20 569.15,905.20" fill="#ff00ff"/>
<polygon points="915.50,786.60 933.10,756.00 897.90,756.00" fill="#ff00ff"/>
<polygon points="1244.25,665.30 1261.85,634.70 1226.65,634.70" fill="#ff00ff"/>
<polygon points="1573.00,527.60 1590.60,497.00 1555.40,497.00" fill="#ff00ff"/>
<polyline points="323.75,958.00 326.88,956.29 330.01,954.58 333.14,952.87 336.27,951.16 339.40,949.45 342.54,947.74 345.67,946.03 348.80,944.32 351.93,942.61 355.06,940.91 358.19,939.20 361.32,937.49 364.45,935.79 367.58,934.08 370.71,932.38 373.85,930.67 376.98,928.97 380.11,927.27 383.24,925.57 386.37,923.87 389.50,922.17 392.63,920.47 395.76,918.78 398.89,917.08 402.02,915.39 405.15,913.70 408.29,912.01 411.42,910.32 414.55,908.63 417.68,906.95 420.81,905.26 423.94,903.58 427.07,901.90 430.20,900.22 433.33,898.55 436.46,896.87 439.60,895.20 442.73,893.53 445.86,891.86 448.99,890.20 452.12,888.53 455.25,886.87 458.38,885.21 461.51,883.56 464.64,881.91 467.77,880.25 470.90,878.61 474.04,876.96 477.17,875.32 480.30,873.68 483.43,872.04 486.56,870.41 489.69,868.77 492.82,867.15 495.95,865.52 499.08,863.90 502.21,862.28 505.35,860.67 508.48,859.05 511.61,857.44 514.74,855.84 517.87,854.24 521.00,852.64 524.13,851.04 527.26,849.45 530.39,847.87 533.52,846.28 536.65,844.70 539.79,843.13 542.92,841.56 546.05,839.99 549.18,838.42 552.31,836.87 555.44,835.31 558.57,833.76 561.70,832.21 564.83,830.67 567.96,829.13 571.10,827.60 574.23,826.07 577.36,824.54 580.49,823.03 583.62,821.51 586.75,820.00 589.88,818.49 593.01,816.99 596.14,815.50 599.27,814.01 602.40,812.52 605.54,811.04 608.67,809.56 611.80,808.09 614.93,806.62 618.06,805.16 621.19,803.70 624.32,802.24 627.45,800.79 630.58,799.34 633.71,797.90 636.85,796.46 639.98,795.03 643.11,793.60 646.24,792.17 649.37,790.75 652.50,789.33 655.63,787.91 658.76,786.50 661.89,785.10 665.02,783.69 668.15,782.29 671.29,780.90 674.42,779.50 677.55,778.11 680.68,776.73 683.81,775.35 686.94,773.97 690.07,772.59 693.20,771.22 696.33,769.85 699.46,768.49 702.60,767.12 705.73,765.76 708.86,764.41 711.99,763.06 715.12,761.71 718.25,760.36 721.38,759.01 724.51,757.67 727.64,756.33 730.77,755.00 733.90,753.66 737.04,752.33 740.17,751.01 743.30,749.68 746.43,748.36 749.56,747.04 752.69,745.72 755.82,744.40 758.95,743.09 762.08,741.78 765.21,740.47 768.35,739.16 771.48,737.86 774.61,736.56 777.74,735.26 780.87,733.96 784.00,732.66 787.13,731.37 790.26,730.08 793.39,728.79 796.52,727.50 799.65,726.21 802.79,724.93 805.92,723.64 809.05,722.36 812.18,721.08 815.31,719.80 818.44,718.52 821.57,717.25 824.70,715.97 827.83,714.70 830.96,713.43 834.10,712.16 837.23,710.89 840.36,709.62 843.49,708.35 846.62,707.08 849.75,705.82 852.88,704.56 856.01,703.29 859.14,702.03 862.27,700.77 865.40,699.51 868.54,698.25 871.67,696.99 874.80,695.73 877.93,694.47 881.06,693.21 884.19,691.95 887.32,690.70 890.45,689.44 893.58,688.19 896.71,686.93 899.85,685.67 902.98,684.42 906.11,683.16 909.24,681.91 912.37,680.65 915.50,679.40 918.63,678.15 921.76,676.89 924.89,675.64 928.02,674.38 931.15,673.13 934.29,671.87 937.42,670.62 940.55,669.36 943.68,668.11 946.81,666.86 949.94,665.60 953.07,664.35 956.20,663.10 959.33,661.85 962.46,660.59 965.60,659.34 968.73,658.09 971.86,656.84 974.99,655.59 978.12,654.34 981.25,653.09 984.38,651.84 987.51,650.59 990.64,649.34 993.77,648.10 996.90,646.85 1000.04,645.60 1003.17,644.36 1006.30,643.11 1009.43,641.87 1012.56,640.63 1015.69,639.38 1018.82,638.14 1021.95,636.90 1025.08,635.66 1028.21,634.42 1031.35,633.18 1034.48,631.95 1037.61,630.71 1040.74,629.47 1043.87,628.24 1047.00,627.00 1050.13,625.77 1053.26,624.54 1056.39,623.31 1059.52,622.08 1062.65,620.85 1065.79,619.63 1068.92,618.40 1072.05,617.18 1075.18,615.95 1078.31,614.73 1081.44,613.51 1084.57,612.29 1087.70,611.07 1090.83,609.85 1093.96,608.64 1097.10,607.43 1100.23,606.21 1103.36,605.00 1106.49,603.79 1109.62,602.58 1112.75,601.38 1115.88,600.17 1119.01,598.97 1122.14,597.77 1125.27,596.57 1128.40,595.37 1131.54,594.17 1134.67,592.97 1137.80,591.78 1140.93,590.59 1144.06,589.40 1147.19,588.21 1150.32,587.02 1153.45,585.84 1156.58,584.66 1159.71,583.48 1162.85,582.30 1165.98,581.12 1169.11,579.95 1172.24,578.77 1175.37,577.60 1178.50,576.43 1181.63,575.27 1184.76,574.10 1187.89,572.94 1191.02,571.78 1194.15,570.62 1197.29,569.46 1200.42,568.31 1203.55,567.16 1206.68,566.01 1209.81,564.86 1212.94,563.72 1216.07,562.57 1219.20,561.43 1222.33,560.30 1225.46,559.16 1228.60,558.03 1231.73,556.90 1234.86,555.77 1237.99,554.64 1241.12,553.52 1244.25,552.40 1247.38,551.28 1250.51,550.17 1253.64,549.05 1256.77,547.94 1259.90,546.84 1263.04,545.73 1266.17,544.63 1269.30,543.53 1272.43,542.43 1275.56,541.33 1278.69,540.24 1281.82,539.15 1284.95,538.06 1288.08,536.98 1291.21,535.89 1294.35,534.81 1297.48,533.73 1300.61,532.65 1303.74,531.58 1306.87,530.50 1310.00,529.43 1313.13,528.36 1316.26,527.30 1319.39,526.23 1322.52,525.17 1325.65,524.11 1328.79,523.05 1331.92,521.99 1335.05,520.93 1338.18,519.88 1341.31,518.83 1344.44,517.78 1347.57,516.73 1350.70,515.68 1353.83,514.64 1356.96,513.60 1360.10,512.56 1363.23,511.52 1366.36,510.48 1369.49,509.44 1372.62,508.41 1375.75,507.38 1378.88,506.34 1382.01,505.31 1385.14,504.29 1388.27,503.26 1391.40,502.23 1394.54,501.21 1397.67,500.19 1400.80,499.17 1403.93,498.15 1407.06,497.13 1410.19,496.11 1413.32,495.09 1416.45,494.08 1419.58,493.07 1422.71,492.05 1425.85,491.04 1428.98,490.03 1432.11,489.02 1435.24,488.02 1438.37,487.01 1441.50,486.00 1444.63,485.00 1447.76,484.00 1450.89,482.99 1454.02,481.99 1457.15,480.99 1460.29,479.99 1463.42,478.99 1466.55,477.99 1469.68,477.00 1472.81,476.00 1475.94,475.01 1479.07,474.01 1482.20,473.02 1485.33,472.02 1488.46,471.03 1491.60,470.04 1494.73,469.05 1497.86,468.06 1500.99,467.07 1504.12,466.08 1507.25,465.09 1510.38,464.10 1513.51,463.11 1516.64,462.12 1519.77,461.14 1522.90,460.15 1526.04,459.16 1529.17,458.18 1532.30,457.19 1535.43,456.21 1538.56,455.22 1541.69,454.24 1544.82,453.25 1547.95,452.27 1551.08,451.28 1554.21,450.30 1557.35,449.32 1560.48,448.33 1563.61,447.35 1566.74,446.37 1569.87,445.38 1573.00,444.40" fill="none" stroke="#008000" stroke-width="9.8" stroke-linejoin="round" stroke-linecap="round"/>
<polygon points="323.75,939.40 342.35,958.00 323.75,976.60 305.15,958.00" fill="#008000"/>
<polygon points="586.75,801.40 605.35,820.00 586.75,838.60 568.15,820.00" fill="#008000"/>
<polygon points="915.50,660.80 934.10,679.40 915.50,698.00 896.90,679.40" fill="#008000"/>
<polygon points="1244.25,533.80 1262.85,552.40 1244.25,571.00 1225.65,552.40" fill="#008000"/>
<polygon points="1573.00,425.80 1591.60,444.40 1573.00,463.00 1554.40,444.40" fill="#008000"/>
<line x1="373.3" y1="147.4" x2="497.5" y2="147.4" stroke="#000000" stroke-width="9.0" stroke-linecap="round"/>
<rect x="422.60" y="134.20" width="26.40" height="26.40" fill="#000000"/>
<text transform="translate(513.2,166.00) scale(0.943,1)" class="leg">T-PSA NC <tspan dx="-4.2">1</tspan></text>
<line x1="373.3" y1="215.4" x2="497.5" y2="215.4" stroke="#ff0000" stroke-width="9.0" stroke-linecap="round"/>
<circle cx="435.80" cy="215.40" r="15.0" fill="#ff0000"/>
<text transform="translate(726.8,234.10) scale(0.943,1)" class="leg" text-anchor="end">T-PSA NC 2</text>
<line x1="373.3" y1="283.0" x2="497.5" y2="283.0" stroke="#0000ff" stroke-width="9.0" stroke-linecap="round"/>
<polygon points="435.80,262.70 453.40,293.30 418.20,293.30" fill="#0000ff"/>
<text transform="translate(726.8,301.20) scale(0.943,1)" class="leg" text-anchor="end">T-PSA NC 3</text>
<line x1="373.3" y1="350.4" x2="497.5" y2="350.4" stroke="#ff00ff" stroke-width="9.0" stroke-linecap="round"/>
<polygon points="435.80,370.70 453.40,340.10 418.20,340.10" fill="#ff00ff"/>
<text transform="translate(726.8,370.00) scale(0.943,1)" class="leg" text-anchor="end">T-PSA NC 4</text>
<line x1="373.3" y1="418.0" x2="497.5" y2="418.0" stroke="#008000" stroke-width="9.0" stroke-linecap="round"/>
<polygon points="435.80,399.40 454.40,418.00 435.80,436.60 417.20,418.00" fill="#008000"/>
<text transform="translate(726.8,437.00) scale(0.943,1)" class="leg" text-anchor="end">T-PSA NC 5</text>
<rect x="253" y="44" width="10" height="1177" fill="#800000"/>
<rect x="1700" y="44" width="9" height="1177" fill="#800000"/>
<rect x="253" y="44" width="1456" height="10" fill="#800000"/>
<rect x="253" y="1212" width="1456" height="9" fill="#800000"/>
<text transform="translate(233.5,64) scale(0.972,1)" class="tick" text-anchor="end">21.6</text>
<text transform="translate(233.5,225) scale(0.972,1)" class="tick" text-anchor="end">21.4</text>
<text transform="translate(233.5,386) scale(0.972,1)" class="tick" text-anchor="end">21.2</text>
<text transform="translate(233.5,547) scale(0.972,1)" class="tick" text-anchor="end">21.0</text>
<text transform="translate(233.5,708) scale(0.972,1)" class="tick" text-anchor="end">20.8</text>
<text transform="translate(233.5,869) scale(0.972,1)" class="tick" text-anchor="end">20.6</text>
<text transform="translate(233.5,1030) scale(0.972,1)" class="tick" text-anchor="end">20.4</text>
<text transform="translate(233.5,1191) scale(0.972,1)" class="tick" text-anchor="end">20.2</text>
<text transform="translate(258.70,1280) scale(0.972,1)" class="tick" text-anchor="middle">0.0</text>
<text transform="translate(390.20,1280) scale(0.972,1)" class="tick" text-anchor="middle">0.2</text>
<text transform="translate(521.70,1280) scale(0.972,1)" class="tick" text-anchor="middle">0.4</text>
<text transform="translate(653.20,1280) scale(0.972,1)" class="tick" text-anchor="middle">0.6</text>
<text transform="translate(784.70,1280) scale(0.972,1)" class="tick" text-anchor="middle">0.8</text>
<text transform="translate(916.20,1280) scale(0.972,1)" class="tick" text-anchor="middle">1.0</text>
<text transform="translate(1047.70,1280) scale(0.972,1)" class="tick" text-anchor="middle">1.2</text>
<text transform="translate(1179.20,1280) scale(0.972,1)" class="tick" text-anchor="middle">1.4</text>
<text transform="translate(1310.70,1280) scale(0.972,1)" class="tick" text-anchor="middle">1.6</text>
<text transform="translate(1442.20,1280) scale(0.972,1)" class="tick" text-anchor="middle">1.8</text>
<text transform="translate(1573.70,1280) scale(0.972,1)" class="tick" text-anchor="middle">2.0</text>
<text transform="translate(1705.20,1280) scale(0.972,1)" class="tick" text-anchor="middle">2.2</text>
<text transform="translate(910.8,1396.9) scale(0.953,1)" class="xt" text-anchor="middle">Concentration of T-PSA NC based NFs (%)</text>
<text transform="translate(77.8,687.3) rotate(-90) scale(0.957,1)" class="yt" text-anchor="middle">Thermal Conductivity (W/m/K)</text>
</svg>
</body></html>
